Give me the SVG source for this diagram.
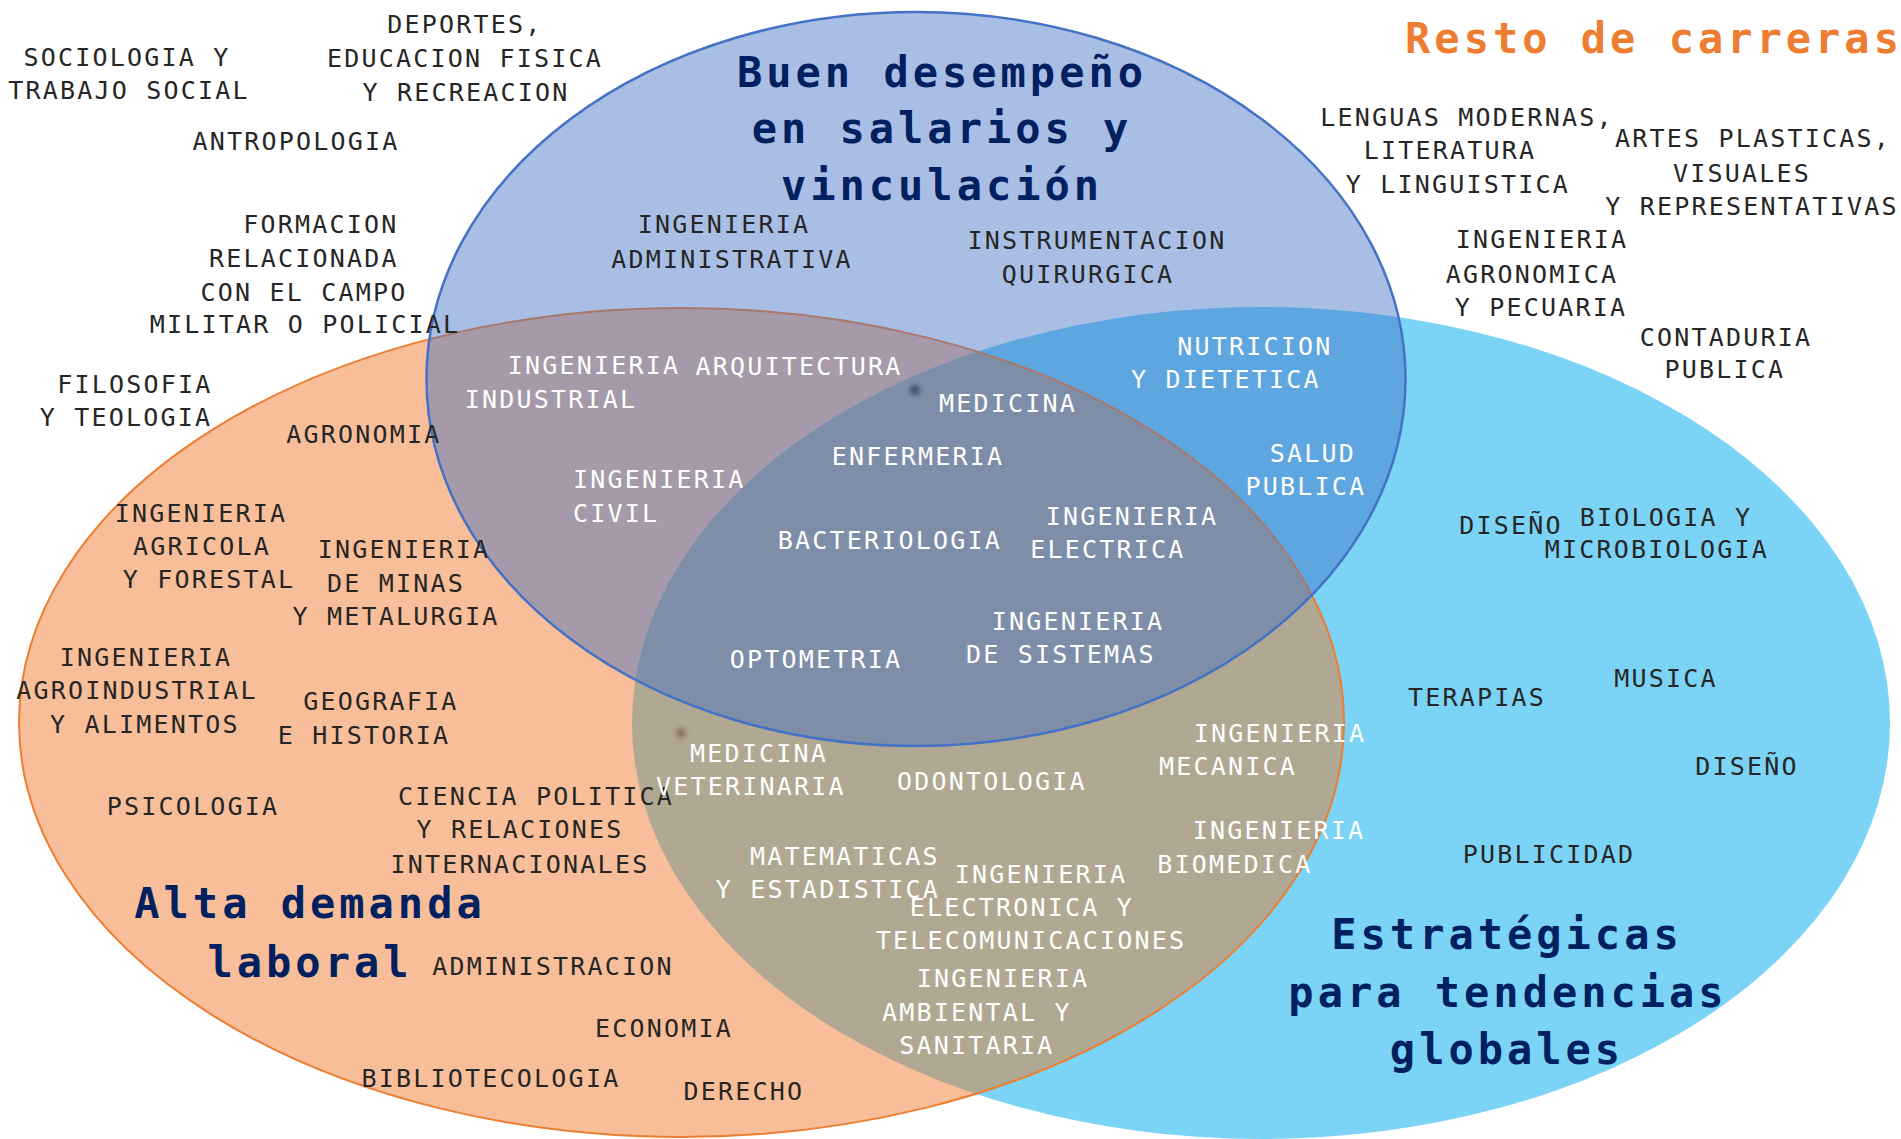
<svg xmlns="http://www.w3.org/2000/svg" width="1901" height="1139" viewBox="0 0 1901 1139">
<style>
.lbl{font-family:"DejaVu Sans Mono",monospace;font-size:25px;letter-spacing:2.2px;text-anchor:middle}
.st{text-anchor:start}
.dk{fill:#262626}
.wt{fill:#ffffff}
.ttl{font-family:"DejaVu Sans Mono",monospace;font-weight:bold;font-size:42px;letter-spacing:4px;text-anchor:middle;fill:#002060}
.or{fill:#ED7D31}
</style>
<defs>
<ellipse id="eO" cx="681.5" cy="722.5" rx="662.5" ry="414.5"/>
<ellipse id="eC" cx="1261" cy="723" rx="629" ry="416"/>
<ellipse id="eB" cx="916" cy="379" rx="489.5" ry="367"/>
<clipPath id="clipO"><ellipse cx="681.5" cy="722.5" rx="662.5" ry="414.5"/></clipPath>
<clipPath id="clipC"><ellipse cx="1261" cy="723" rx="629" ry="416"/></clipPath>
<clipPath id="clipB"><ellipse cx="916" cy="379" rx="489.5" ry="367"/></clipPath>
<filter id="blur" x="-1" y="-1" width="3" height="3"><feGaussianBlur stdDeviation="2.5"/></filter>
</defs>
<rect width="1901" height="1139" fill="#ffffff"/>
<g id="sets">
<g id="set-estrategicas"><use href="#eC" fill="#7BD4F5"/></g>
<g id="set-alta-demanda"><use href="#eO" fill="#F7BE99"/>
<g clip-path="url(#clipC)"><use href="#eO" fill="#B1A893"/></g>
<use href="#eO" fill="none" stroke="#ED7D31" stroke-width="2"/></g>
<g id="set-buen-desempeno"><use href="#eB" fill="#A9BEE5"/>
<g clip-path="url(#clipO)"><use href="#eB" fill="#A699A9"/></g>
<g clip-path="url(#clipC)"><use href="#eB" fill="#5EA6E0"/><g clip-path="url(#clipO)"><use href="#eB" fill="#7F8EA8"/></g></g>
<g clip-path="url(#clipB)"><use href="#eO" fill="none" stroke="#A8786C" stroke-width="2"/></g>
<use href="#eB" fill="none" stroke="#4472C4" stroke-width="2.5"/></g>
<circle cx="915" cy="390" r="5" fill="#3E4C6C" filter="url(#blur)"/>
<circle cx="681" cy="733" r="5" fill="#8A7258" filter="url(#blur)"/>
</g>
<g id="connectors"/>
<g id="titles">
<g id="t-buen"><text class="ttl" x="942" y="87">Buen desempeño</text><text class="ttl" x="942" y="143">en salarios y</text><text class="ttl" x="942" y="200">vinculación</text></g>
<g id="t-alta"><text class="ttl" x="310" y="918">Alta demanda</text><text class="ttl" x="310" y="977">laboral</text></g>
<g id="t-estrategicas"><text class="ttl" x="1507" y="949">Estratégicas</text><text class="ttl" x="1508" y="1007">para tendencias</text><text class="ttl" x="1507" y="1064">globales</text></g>
<g id="t-resto"><text class="ttl or" x="1654" y="53">Resto de carreras</text></g>
</g>
<g id="labels-dark" class="lbl dk">
<g id="n-sociologia"><text x="127" y="66">SOCIOLOGIA Y</text><text x="129" y="99">TRABAJO SOCIAL</text></g>
<g id="n-deportes"><text x="465" y="33">DEPORTES,</text><text x="465" y="67">EDUCACION FISICA</text><text x="466" y="101">Y RECREACION</text></g>
<g id="n-antropologia"><text x="296" y="150">ANTROPOLOGIA</text></g>
<g id="n-formacion"><text x="321" y="233">FORMACION</text><text x="304" y="267">RELACIONADA</text><text x="304" y="301">CON EL CAMPO</text><text x="305" y="333">MILITAR O POLICIAL</text></g>
<g id="n-filosofia"><text x="135" y="393">FILOSOFIA</text><text x="126" y="426">Y TEOLOGIA</text></g>
<g id="n-agronomia"><text x="364" y="443">AGRONOMIA</text></g>
<g id="n-ing-agricola"><text x="201" y="522">INGENIERIA</text><text x="202" y="555">AGRICOLA</text><text x="209" y="588">Y FORESTAL</text></g>
<g id="n-ing-minas"><text x="404" y="558">INGENIERIA</text><text x="396" y="592">DE MINAS</text><text x="396" y="625">Y METALURGIA</text></g>
<g id="n-ing-agroindustrial"><text x="146" y="666">INGENIERIA</text><text x="137" y="699">AGROINDUSTRIAL</text><text x="145" y="733">Y ALIMENTOS</text></g>
<g id="n-geografia"><text x="381" y="710">GEOGRAFIA</text><text x="364" y="744">E HISTORIA</text></g>
<g id="n-psicologia"><text x="193" y="815">PSICOLOGIA</text></g>
<g id="n-ciencia-politica"><text x="536" y="805">CIENCIA POLITICA</text><text x="520" y="838">Y RELACIONES</text><text x="520" y="873">INTERNACIONALES</text></g>
<g id="n-administracion"><text x="553" y="975">ADMINISTRACION</text></g>
<g id="n-economia"><text x="664" y="1037">ECONOMIA</text></g>
<g id="n-bibliotecologia"><text x="491" y="1087">BIBLIOTECOLOGIA</text></g>
<g id="n-derecho"><text x="744" y="1100">DERECHO</text></g>
<g id="n-ing-administrativa"><text x="724" y="233">INGENIERIA</text><text x="732" y="268">ADMINISTRATIVA</text></g>
<g id="n-instrumentacion"><text x="1097" y="249">INSTRUMENTACION</text><text x="1088" y="283">QUIRURGICA</text></g>
<g id="n-lenguas"><text x="1467" y="126">LENGUAS MODERNAS,</text><text x="1450" y="159">LITERATURA</text><text x="1458" y="193">Y LINGUISTICA</text></g>
<g id="n-artes"><text x="1753" y="147">ARTES PLASTICAS,</text><text x="1742" y="182">VISUALES</text><text x="1752" y="215">Y REPRESENTATIVAS</text></g>
<g id="n-ing-agronomica"><text x="1542" y="248">INGENIERIA</text><text x="1532" y="283">AGRONOMICA</text><text x="1541" y="316">Y PECUARIA</text></g>
<g id="n-contaduria"><text x="1726" y="346">CONTADURIA</text><text x="1725" y="378">PUBLICA</text></g>
<g id="n-diseno-1"><text x="1511" y="534">DISEÑO</text></g>
<g id="n-biologia"><text x="1666" y="526">BIOLOGIA Y</text><text x="1657" y="558">MICROBIOLOGIA</text></g>
<g id="n-terapias"><text x="1477" y="706">TERAPIAS</text></g>
<g id="n-musica"><text x="1666" y="687">MUSICA</text></g>
<g id="n-diseno-2"><text x="1747" y="775">DISEÑO</text></g>
<g id="n-publicidad"><text x="1549" y="863">PUBLICIDAD</text></g>
</g>
<g id="labels-light" class="lbl wt">
<g id="n-ing-industrial"><text x="594" y="374">INGENIERIA</text><text x="551" y="408">INDUSTRIAL</text></g>
<g id="n-arquitectura"><text x="799" y="375">ARQUITECTURA</text></g>
<g id="n-ing-civil"><text class="st" x="573" y="488">INGENIERIA</text><text class="st" x="573" y="522">CIVIL</text></g>
<g id="n-medicina"><text x="1008" y="412">MEDICINA</text></g>
<g id="n-enfermeria"><text x="918" y="465">ENFERMERIA</text></g>
<g id="n-bacteriologia"><text x="890" y="549">BACTERIOLOGIA</text></g>
<g id="n-ing-electrica"><text x="1132" y="525">INGENIERIA</text><text x="1108" y="558">ELECTRICA</text></g>
<g id="n-ing-sistemas"><text x="1078" y="630">INGENIERIA</text><text x="1061" y="663">DE SISTEMAS</text></g>
<g id="n-optometria"><text x="816" y="668">OPTOMETRIA</text></g>
<g id="n-nutricion"><text x="1255" y="355">NUTRICION</text><text x="1226" y="388">Y DIETETICA</text></g>
<g id="n-salud"><text x="1313" y="462">SALUD</text><text x="1306" y="495">PUBLICA</text></g>
<g id="n-medicina-veterinaria"><text x="759" y="762">MEDICINA</text><text x="751" y="795">VETERINARIA</text></g>
<g id="n-odontologia"><text x="992" y="790">ODONTOLOGIA</text></g>
<g id="n-ing-mecanica"><text x="1280" y="742">INGENIERIA</text><text x="1228" y="775">MECANICA</text></g>
<g id="n-ing-biomedica"><text x="1279" y="839">INGENIERIA</text><text x="1235" y="873">BIOMEDICA</text></g>
<g id="n-matematicas"><text x="845" y="865">MATEMATICAS</text><text x="828" y="898">Y ESTADISTICA</text></g>
<g id="n-ing-electronica"><text x="1041" y="883">INGENIERIA</text><text x="1022" y="916">ELECTRONICA Y</text><text x="1031" y="949">TELECOMUNICACIONES</text></g>
<g id="n-ing-ambiental"><text x="1003" y="987">INGENIERIA</text><text x="977" y="1021">AMBIENTAL Y</text><text x="977" y="1054">SANITARIA</text></g>
</g>
</svg>
